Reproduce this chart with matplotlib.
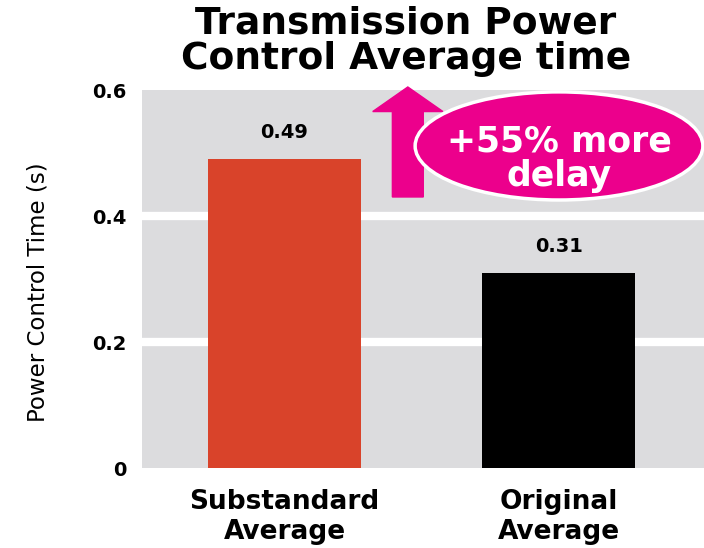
import matplotlib.pyplot as plt
from matplotlib.patches import Ellipse, FancyArrow

# data
categories = ['Substandard\nAverage', 'Original\nAverage']
values = [0.49, 0.31]
value_labels = ['0.49', '0.31']
colors = ['#D9432A', '#000000']
yticks = [0, 0.2, 0.4, 0.6]
ytick_labels = ['0', '0.2', '0.4', '0.6']

fig = plt.figure(figsize=(7.04, 5.48), dpi=100)
ax = fig.add_axes([142/704, 80/548, 562/704, 378/548])
ax.set_facecolor('#DCDCDE')

x = range(len(categories))
ax.bar(x, values, width=0.56, color=colors, zorder=3)
for xi, v, lab in zip(x, values, value_labels):
    ax.text(xi, v + 0.027, lab, ha='center', va='bottom', fontsize=14,
            fontweight='bold', zorder=4)

ax.set_xlim(-0.52, 1.53)
ax.set_ylim(0, 0.6)
ax.set_yticks(yticks)
ax.set_yticklabels(ytick_labels, fontsize=14, fontweight='bold')
ax.set_xticks(list(x))
ax.set_xticklabels(categories, fontsize=19, fontweight='bold', linespacing=1.2)
ax.tick_params(length=0, axis='y', pad=11)
ax.tick_params(length=0, axis='x', pad=15)
for yv in yticks[1:-1]:
    ax.axhline(yv, color='white', linewidth=6, zorder=1)
for s in ax.spines.values():
    s.set_visible(False)

ax.set_ylabel('Power Control Time (s)', fontsize=16.5)
ax.yaxis.set_label_coords(-0.165, 0.466)

fig.text(406/704, 0.99, 'Transmission Power\nControl Average time', ha='center', va='top',
         fontsize=27, fontweight='bold', linespacing=1.0)

# pink callout
pink = '#EC008C'
arr = FancyArrow(0.473, 0.717, 0, 0.291, width=0.055, head_width=0.125,
                 head_length=0.065, length_includes_head=True, color=pink,
                 transform=ax.transAxes, clip_on=False, zorder=5)
ax.add_patch(arr)
ell = Ellipse((0.742, 0.852), 0.512, 0.286, facecolor=pink, edgecolor='white',
              linewidth=2.5, transform=ax.transAxes, clip_on=False, zorder=5)
ax.add_patch(ell)
ax.text(0.742, 0.818, '+55% more\ndelay', transform=ax.transAxes, ha='center',
        va='center', color='white', fontsize=25, fontweight='bold',
        linespacing=1.0, zorder=6)

fig.savefig('out.png', dpi=100)
